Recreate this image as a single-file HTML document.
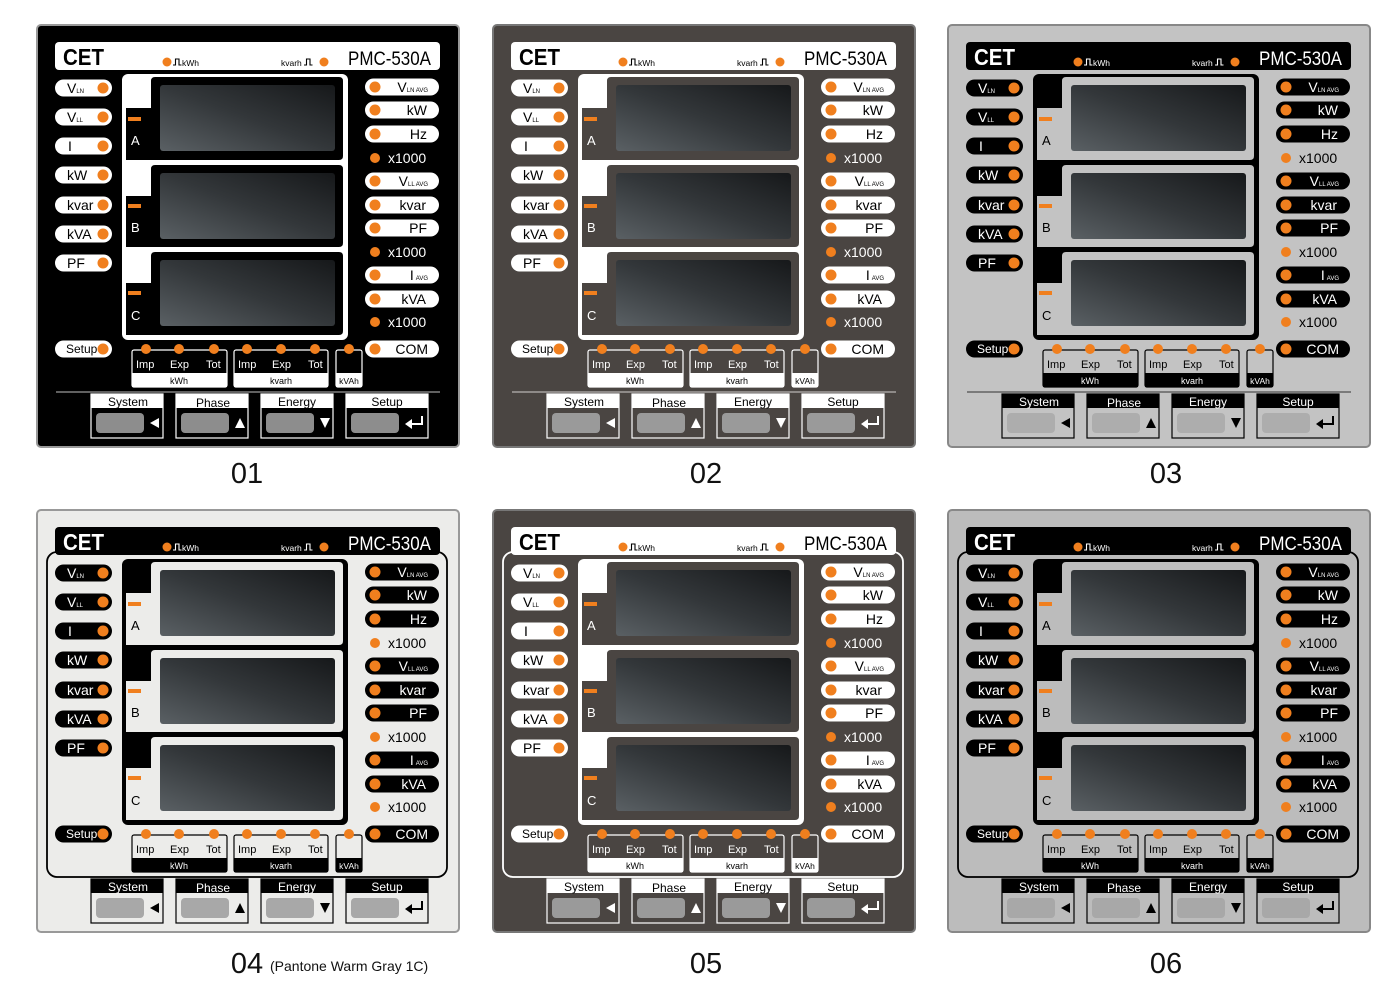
<!DOCTYPE html>
<html><head><meta charset="utf-8"><style>
html,body{margin:0;padding:0;background:#fff}
svg{display:block}
</style></head><body>
<svg width="1400" height="990" viewBox="0 0 1400 990" xmlns="http://www.w3.org/2000/svg" xmlns:xlink="http://www.w3.org/1999/xlink" font-family="Liberation Sans, sans-serif">
<defs>
<linearGradient id="lcd" x1="0" y1="1" x2="1" y2="0">
<stop offset="0" stop-color="#5a6064"/><stop offset="0.5" stop-color="#33373a"/><stop offset="1" stop-color="#16181a"/>
</linearGradient>
<symbol id="p" viewBox="0 0 424 424" width="424" height="424">
<rect x="1" y="1" width="422" height="422" rx="4" style="fill:var(--bg);stroke:var(--ol)" stroke-width="2"/>
<rect x="11" y="43" width="400" height="325" rx="10" fill="none" style="stroke:var(--ib)" stroke-width="1.8"/>
<rect x="19" y="18" width="385" height="28" rx="4" style="fill:var(--fg)"/>
<text x="27" y="41" font-size="23" font-weight="bold" textLength="41" lengthAdjust="spacingAndGlyphs" style="fill:var(--tx)">CET</text>
<circle cx="131" cy="38" r="4.5" fill="#f07f1e"/>
<path d="M137,41 h2.5 v-6 h3.5 v6 h2.5" fill="none" stroke-width="1.1" style="stroke:var(--tx)"/>
<text x="146" y="42" font-size="8.5" style="fill:var(--tx)">kWh</text>
<text x="245" y="42" font-size="8.5" style="fill:var(--tx)">kvarh</text>
<path d="M268,41 h2.5 v-6 h3.5 v6 h2.5" fill="none" stroke-width="1.1" style="stroke:var(--tx)"/>
<circle cx="288" cy="38" r="4.5" fill="#f07f1e"/>
<text x="312" y="41" font-size="19" textLength="83" lengthAdjust="spacingAndGlyphs" style="fill:var(--tx)">PMC-530A</text>
<g style="fill:var(--fg)">
<rect x="19" y="55.5" width="57" height="17" rx="8.5"/>
<rect x="19" y="84.5" width="57" height="17" rx="8.5"/>
<rect x="19" y="113.5" width="57" height="17" rx="8.5"/>
<rect x="19" y="142.5" width="57" height="17" rx="8.5"/>
<rect x="19" y="172.5" width="57" height="17" rx="8.5"/>
<rect x="19" y="201.5" width="57" height="17" rx="8.5"/>
<rect x="19" y="230.5" width="57" height="17" rx="8.5"/>
<rect x="19" y="316.5" width="57" height="17" rx="8.5"/>
</g>
<g fill="#f07f1e">
<circle cx="67" cy="64" r="5.5"/><circle cx="67" cy="93" r="5.5"/><circle cx="67" cy="122" r="5.5"/>
<circle cx="67" cy="151" r="5.5"/><circle cx="67" cy="181" r="5.5"/><circle cx="67" cy="210" r="5.5"/>
<circle cx="67" cy="239" r="5.5"/><circle cx="67" cy="325" r="5.5"/>
</g>
<g font-size="14" style="fill:var(--tx)">
<text x="31" y="69">V<tspan font-size="6">LN</tspan></text>
<text x="31" y="98">V<tspan font-size="6">LL</tspan></text>
<text x="32" y="127">I</text>
<text x="31" y="156">kW</text>
<text x="31" y="186">kvar</text>
<text x="31" y="215">kVA</text>
<text x="31" y="244">PF</text>
<text x="30" y="329" font-size="12">Setup</text>
</g>
<g style="fill:var(--fg)">
<rect x="329" y="54.5" width="74" height="17" rx="8.5"/>
<rect x="329" y="77.5" width="74" height="17" rx="8.5"/>
<rect x="329" y="101.5" width="74" height="17" rx="8.5"/>
<rect x="329" y="148.5" width="74" height="17" rx="8.5"/>
<rect x="329" y="172.5" width="74" height="17" rx="8.5"/>
<rect x="329" y="195.5" width="74" height="17" rx="8.5"/>
<rect x="329" y="242.5" width="74" height="17" rx="8.5"/>
<rect x="329" y="266.5" width="74" height="17" rx="8.5"/>
<rect x="329" y="316.5" width="74" height="17" rx="8.5"/>
</g>
<g fill="#f07f1e">
<circle cx="339" cy="63" r="5.5"/><circle cx="339" cy="86" r="5.5"/><circle cx="339" cy="110" r="5.5"/>
<circle cx="339" cy="134" r="5"/>
<circle cx="339" cy="157" r="5.5"/><circle cx="339" cy="181" r="5.5"/><circle cx="339" cy="204" r="5.5"/>
<circle cx="339" cy="228" r="5"/>
<circle cx="339" cy="251" r="5.5"/><circle cx="339" cy="275" r="5.5"/>
<circle cx="339" cy="298" r="5"/>
<circle cx="339" cy="325" r="5.5"/>
</g>
<g font-size="14" text-anchor="end" style="fill:var(--tx)">
<text x="392" y="68">V<tspan font-size="6">LN AVG</tspan></text>
<text x="391" y="91">kW</text>
<text x="391" y="115">Hz</text>
<text x="392" y="162">V<tspan font-size="6">LL AVG</tspan></text>
<text x="390" y="186">kvar</text>
<text x="391" y="209">PF</text>
<text x="392" y="256">I<tspan font-size="6" dx="2">AVG</tspan></text>
<text x="390" y="280">kVA</text>
<text x="392" y="330">COM</text>
</g>
<g font-size="14" style="fill:var(--tx2)">
<text x="352" y="139">x1000</text>
<text x="352" y="233">x1000</text>
<text x="352" y="303">x1000</text>
</g>
<rect x="86" y="50" width="226" height="266" rx="6" style="fill:var(--fg)"/>
<g style="fill:var(--bg)">
<path d="M119,53 H303 Q307,53 307,57 V132 Q307,136 303,136 H90 V84 H115 V57 Q115,53 119,53 Z"/>
<path d="M119,141 H303 Q307,141 307,145 V219 Q307,223 303,223 H90 V172 H115 V145 Q115,141 119,141 Z"/>
<path d="M119,228 H303 Q307,228 307,232 V307 Q307,311 303,311 H90 V259 H115 V232 Q115,228 119,228 Z"/>
</g>
<rect x="124" y="61" width="175" height="66" rx="3" fill="url(#lcd)"/>
<rect x="124" y="149" width="175" height="66" rx="3" fill="url(#lcd)"/>
<rect x="124" y="236" width="175" height="66" rx="3" fill="url(#lcd)"/>
<g fill="#f07f1e">
<rect x="92" y="93" width="13" height="4"/><rect x="92" y="180" width="13" height="4"/><rect x="92" y="267" width="13" height="4"/>
</g>
<g font-size="13" style="fill:var(--tx2)">
<text x="95" y="121">A</text><text x="95" y="208">B</text><text x="95" y="296">C</text>
</g>
<g stroke-width="1.2" style="fill:var(--bg);stroke:var(--fg)">
<rect x="96" y="326" width="95" height="37" rx="2"/>
<rect x="198" y="326" width="94" height="37" rx="2"/>
<rect x="300" y="326" width="26" height="37" rx="2"/>
</g>
<g style="fill:var(--fg)">
<rect x="96" y="349" width="95" height="14"/>
<rect x="198" y="349" width="94" height="14"/>
<rect x="300" y="349" width="26" height="14"/>
</g>
<g fill="#f07f1e">
<circle cx="110" cy="325" r="5"/><circle cx="143" cy="325" r="5"/><circle cx="178" cy="325" r="5"/>
<circle cx="211" cy="325" r="5"/><circle cx="245" cy="325" r="5"/><circle cx="279" cy="325" r="5"/>
<circle cx="313" cy="325" r="5"/>
</g>
<g font-size="11" style="fill:var(--tx2)">
<text x="100" y="344">Imp</text><text x="134" y="344">Exp</text><text x="170" y="344">Tot</text>
<text x="202" y="344">Imp</text><text x="236" y="344">Exp</text><text x="272" y="344">Tot</text>
</g>
<g font-size="9" text-anchor="middle" style="fill:var(--tx)">
<text x="143" y="360">kWh</text><text x="245" y="360">kvarh</text><text x="313" y="360" font-size="8.5">kVAh</text>
</g>
<line x1="20" y1="368" x2="404" y2="368" stroke-width="1.2" opacity="0.6" style="stroke:var(--fg)"/>
<g stroke-width="1.2" style="fill:var(--bg);stroke:var(--fg)">
<rect x="55" y="370" width="72" height="44"/>
<rect x="140" y="370" width="72" height="44"/>
<rect x="225" y="370" width="72" height="44"/>
<rect x="310" y="370" width="82" height="44"/>
</g>
<g style="fill:var(--fg)">
<rect x="55" y="370" width="72" height="14"/>
<rect x="140" y="370" width="72" height="14"/>
<rect x="225" y="370" width="72" height="14"/>
<rect x="310" y="370" width="82" height="14"/>
</g>
<g font-size="12" text-anchor="middle" style="fill:var(--tx)">
<text x="92" y="382">System</text><text x="177" y="383">Phase</text><text x="261" y="382">Energy</text><text x="351" y="382">Setup</text>
</g>
<g style="fill:var(--key)">
<rect x="60" y="389" width="48" height="20" rx="4"/>
<rect x="145" y="389" width="48" height="20" rx="4"/>
<rect x="230" y="389" width="48" height="20" rx="4"/>
<rect x="315" y="389" width="48" height="20" rx="4"/>
</g>
<g style="fill:var(--tx2)">
<polygon points="114,399 123,394 123,404"/>
<polygon points="199,404 204,394 209,404"/>
<polygon points="284,394 294,394 289,404"/>
<polygon points="369,400 376,395 376,405"/>
<rect x="375" y="399" width="12" height="2"/>
<rect x="385" y="392" width="2" height="9"/>
</g>
</symbol>
</defs>

<use xlink:href="#p" href="#p" x="36" y="24" width="424" height="424" style="--bg:#000;--fg:#fff;--tx:#000;--tx2:#fff;--ol:#999;--ib:none;--key:#8d8d8d"/>
<use xlink:href="#p" href="#p" x="492" y="24" width="424" height="424" style="--bg:#4a4542;--fg:#fff;--tx:#000;--tx2:#fff;--ol:#777;--ib:none;--key:#9a9a9a"/>
<use xlink:href="#p" href="#p" x="947" y="24" width="424" height="424" style="--bg:#c3c3c3;--fg:#000;--tx:#fff;--tx2:#000;--ol:#888;--ib:none;--key:#adadad"/>
<use xlink:href="#p" href="#p" x="36" y="509" width="424" height="424" style="--bg:#ececea;--fg:#000;--tx:#fff;--tx2:#000;--ol:#999;--ib:#000;--key:#a8a8a8"/>
<use xlink:href="#p" href="#p" x="492" y="509" width="424" height="424" style="--bg:#4a4542;--fg:#fff;--tx:#000;--tx2:#fff;--ol:#777;--ib:#fff;--key:#9a9a9a"/>
<use xlink:href="#p" href="#p" x="947" y="509" width="424" height="424" style="--bg:#bcbcbc;--fg:#000;--tx:#fff;--tx2:#000;--ol:#888;--ib:#000;--key:#a8a8a8"/>

<g font-size="29" fill="#111" text-anchor="middle">
<text x="247" y="483">01</text>
<text x="706" y="483">02</text>
<text x="1166" y="483">03</text>
<text x="247" y="973">04</text>
<text x="706" y="973">05</text>
<text x="1166" y="973">06</text>
</g>
<text x="270" y="971" font-size="14" fill="#111">(Pantone Warm Gray 1C)</text>
</svg>
</body></html>
